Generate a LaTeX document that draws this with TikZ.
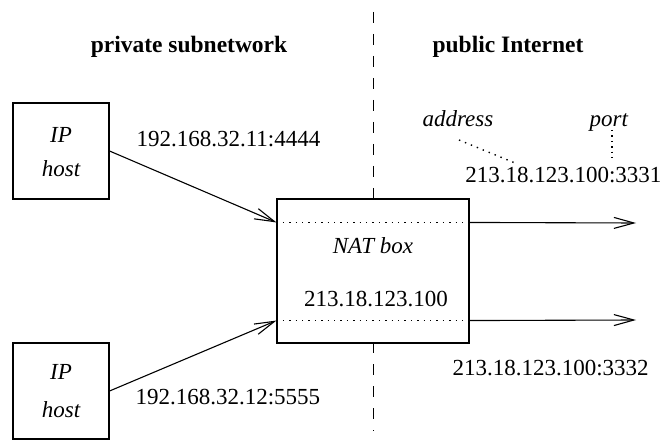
\documentclass[tikz,border=0pt]{standalone}
\usepackage{fontspec}
\setmainfont{Liberation Serif}
\usetikzlibrary{arrows.meta}
\begin{document}
\begin{tikzpicture}[x=1pt,y=-1pt,line width=1.1pt,
  font=\fontsize{23}{27}\selectfont,
  box/.style={draw,fill=white,inner sep=0pt},
  hostbox/.style={box,minimum width=96pt,minimum height=96pt},
  lbl/.style={inner sep=0pt},
  arr/.style={-{Straight Barb[length=20pt,width=11pt]}},
  dots/.style={line width=1.4pt,dash pattern=on 1.4pt off 5pt},
  border/.style={line width=0.9pt,dash pattern=on 11pt off 11pt}]
\useasboundingbox (0,0) rectangle (665,441);

% boundary between the two networks
\coordinate (btop) at (373,12);
\coordinate (bbot) at (373,431);
\draw[border] (btop) -- (bbot);

% headings
\node[lbl,anchor=base,font=\fontsize{23.5}{27}\selectfont\bfseries] (hpriv) at (189,53) {private subnetwork};
\node[lbl,anchor=base,font=\fontsize{23.5}{27}\selectfont\bfseries] (hpub) at (508,53) {public Internet};

% hosts
\node[hostbox] (h1) at (61,151) {};
\node[lbl,anchor=base] (h1a) at (61,143) {\itshape IP};
\node[lbl,anchor=base] (h1b) at (61,177) {\itshape host};
\node[hostbox] (h2) at (61,391) {};
\node[lbl,anchor=base] (h2a) at (61,379) {\itshape IP};
\node[lbl,anchor=base] (h2b) at (61,417) {\itshape host};

% NAT box
\node[box,minimum width=192pt,minimum height=144pt] (nat) at (373,271) {};
\node[lbl,anchor=base] (natname) at (373,254) {\itshape NAT box};
\node[lbl,anchor=base] (natip) at (376,306) {213.18.123.100};
\path (nat.north west) ++(0,24) coordinate (inA)
      (nat.north east) ++(0,24) coordinate (outA)
      (nat.south west) ++(0,-23) coordinate (inB)
      (nat.south east) ++(0,-23) coordinate (outB);
\draw[dots] (inA) -- (outA);
\draw[dots] (inB) -- (outB);

% connections
\draw[arr] (h1.east) -- (inA);
\draw[arr] (h2.east) -- (inB);
\coordinate (endA) at (636,223);
\coordinate (endB) at (636,320);
\draw[arr] (outA) -- (endA);
\draw[arr] (outB) -- (endB);

% endpoint labels
\node[lbl,anchor=base west] (s1) at (136,147) {192.168.32.11:4444};
\node[lbl,anchor=base west] (s2) at (135,404) {192.168.32.12:5555};
\node[lbl,anchor=base east] (p1) at (662,183) {213.18.123.100:3331};
\node[lbl,anchor=base west] (p2) at (452,375) {213.18.123.100:3332};

% address / port annotations
\node[lbl,anchor=base west] (addr) at (422,127) {\itshape address};
\node[lbl,anchor=base west] (port) at (589,127) {\itshape port};
\coordinate (addrA) at (459,140);
\coordinate (addrB) at (515,163);
\coordinate (portA) at (612,130);
\coordinate (portB) at (612,160);
\draw[dots] (addrA) -- (addrB);
\draw[dots,dash pattern=on 1.4pt off 4pt] (portA) -- (portB);
\end{tikzpicture}
\end{document}
